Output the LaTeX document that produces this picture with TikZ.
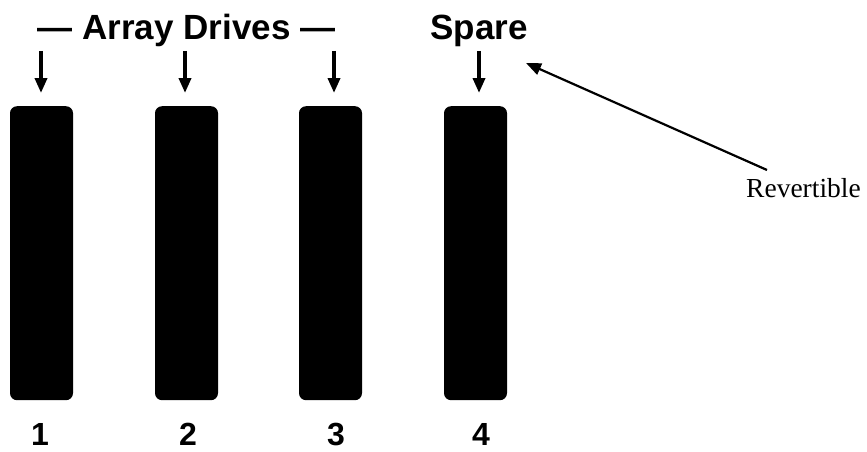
\documentclass[tikz,border=0pt]{standalone}
\usepackage{fontspec}
\setmainfont{Liberation Serif}
\newfontfamily\hvfont{Liberation Sans}
\usetikzlibrary{arrows.meta}
\tikzset{
  drivebar/.style={fill=black, draw=none, rounded corners=7pt, minimum width=63pt, minimum height=294pt, inner sep=0pt, anchor=north},
  headtext/.style={font=\hvfont\bfseries\fontsize{35}{40}\selectfont, inner sep=0pt, anchor=base},
  numtext/.style={font=\hvfont\bfseries\fontsize{32}{36}\selectfont, inner sep=0pt, anchor=base},
  downarrow/.style={line width=3.6pt, -{Triangle[length=15pt, width=12pt]}, shorten >=13pt},
  notearrow/.style={line width=2.2pt, -{Triangle[length=15pt, width=12pt]}},
  notetext/.style={font=\fontsize{27.5}{32}\selectfont, inner sep=0pt, anchor=base west}
}
\begin{document}
\begin{tikzpicture}[x=1pt, y=-1pt]
\useasboundingbox (0,0) rectangle (867,452);
% bars
\node[drivebar] (b1) at (41.5,106) {};
\node[drivebar] (b2) at (186.5,106) {};
\node[drivebar] (b3) at (330.5,106) {};
\node[drivebar] (b4) at (475.5,106) {};
% header texts
\node[headtext] (hdr) at (186.5,40) {— Array Drives —};
\node[headtext] (spare) at (479,40) {Spare};
% arrow starts
\coordinate (a1) at (41,51);
\coordinate (a2) at (185,51);
\coordinate (a3) at (334,51);
\coordinate (a4) at (479,51);
\draw[downarrow] (a1) -- (a1 |- b1.north);
\draw[downarrow] (a2) -- (a2 |- b2.north);
\draw[downarrow] (a3) -- (a3 |- b3.north);
\draw[downarrow] (a4) -- (a4 |- b4.north);
% numbers
\node[numtext] (n1) at (40,445) {1};
\node[numtext] (n2) at (188,445) {2};
\node[numtext] (n3) at (336,445) {3};
\node[numtext] (n4) at (481,445) {4};
% revertible note
\node[notetext] (rev) at (746,197) {Revertible};
\coordinate (revtail) at (767,170);
\coordinate (revtip) at (526,63);
\draw[notearrow] (revtail) -- (revtip);
\end{tikzpicture}
\end{document}
